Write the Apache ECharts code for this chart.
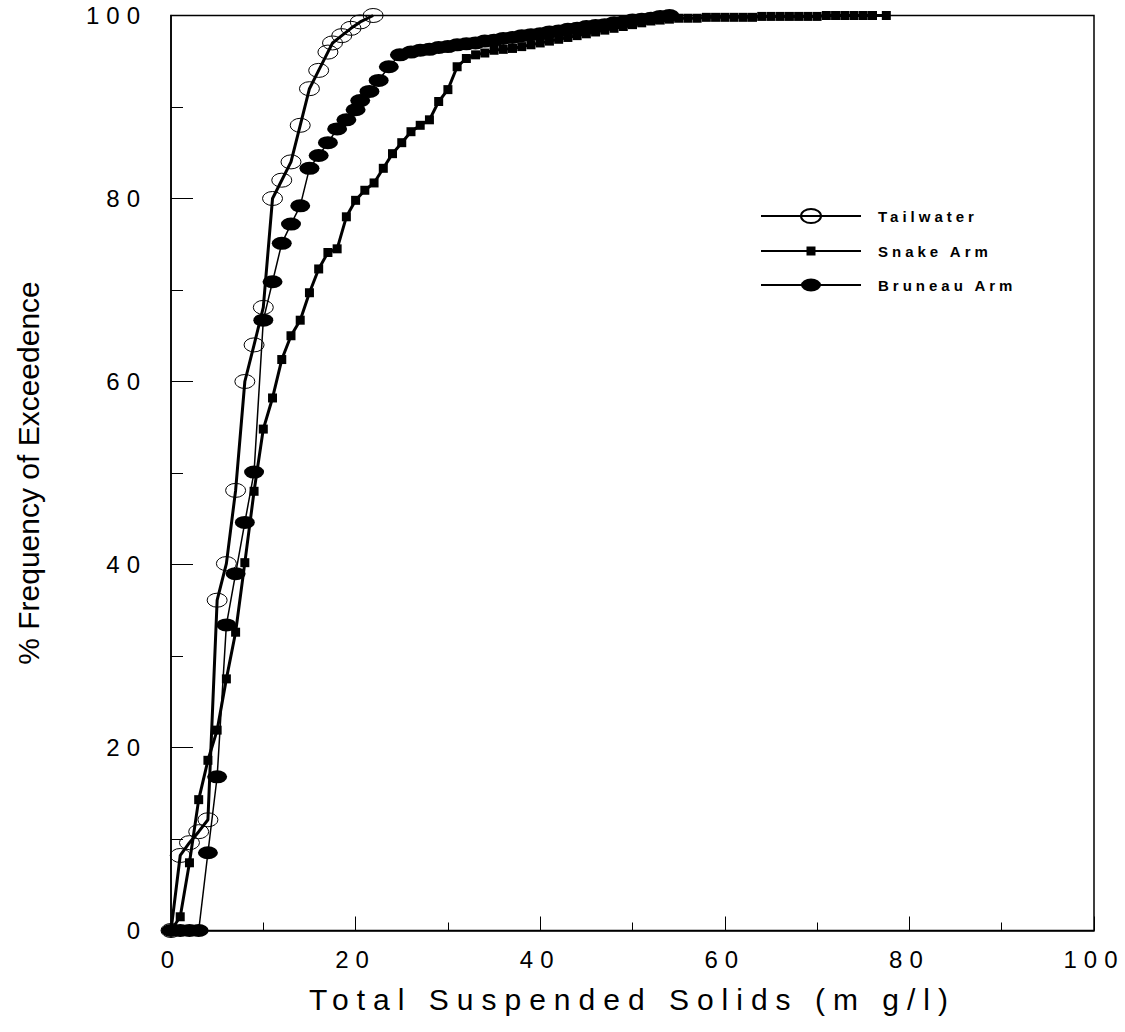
<!DOCTYPE html>
<html>
<head>
<meta charset="utf-8">
<title>Total Suspended Solids</title>
<script src="https://cdn.jsdelivr.net/npm/echarts@6/dist/echarts.min.js"></script>
<style>
html,body{margin:0;padding:0;background:#fff;}
#chart{width:1125px;height:1032px;}
/* letter spacing of the old plot fonts */
#chart text[style*="Arial"]{letter-spacing:7px;}
#chart text[style*="Helvetica"]{letter-spacing:8px;}
#chart text[style*="bold"]{letter-spacing:4px;}
</style>
</head>
<body>
<div id="chart"></div>
<script>
// Tailwater
var tailX = [0, 1, 2, 3, 4, 5, 6, 7, 8, 9, 10, 11, 12, 13, 14, 15, 16, 17, 17.5, 18.5, 19.5, 20.5, 21.9];
var tailY = [0, 8.2, 9.6, 10.8, 12.1, 36.1, 40.1, 48.1, 60, 64, 68.1, 80, 82, 84, 88, 92, 94, 96, 97, 97.8, 98.6, 99.3, 100];

// Snake Arm
var snakeX = [0, 1, 2, 3, 4, 5, 6, 7, 8, 9, 10, 11, 12, 13, 14, 15, 16, 17, 18, 19, 20,
  21, 22, 23, 24, 25, 26, 27, 28, 29, 30, 31, 32, 33, 34, 35, 36, 37,
  38, 39, 40, 41, 42, 43, 44, 45, 46, 47, 48, 49, 50, 51, 52, 53, 54,
  55, 56, 57, 58, 59, 60, 61, 62, 63, 64, 65, 66, 67, 68, 69, 70, 71, 72, 73, 74, 75, 76, 77.5];
var snakeY = [0, 1.5, 7.4, 14.3, 18.6, 21.9, 27.5, 32.6, 40.2, 48, 54.8, 58.2, 62.4, 65, 66.7, 69.7, 72.3, 74.1, 74.5, 78, 79.8,
  80.9, 81.7, 83.3, 84.9, 86.1, 87.3, 88, 88.6, 90.6, 91.9, 94.4, 95.3, 95.7, 95.9, 96.2, 96.3, 96.4,
  96.6, 96.8, 97, 97.2, 97.4, 97.6, 97.8, 98, 98.2, 98.4, 98.6, 98.8, 99, 99.2, 99.4, 99.5, 99.6,
  99.7, 99.7, 99.7, 99.8, 99.8, 99.8, 99.8, 99.8, 99.8, 99.9, 99.9, 99.9, 99.9, 99.9, 99.9, 99.9, 100, 100, 100, 100, 100, 100, 100];

// Bruneau Arm
var bruX = [0, 1, 2, 3, 4, 5, 6, 7, 8, 9, 10, 11, 12, 13, 14, 15, 16, 17, 18, 19, 20, 20.5, 21.5, 22.5, 23.6, 24.8,
  26, 27, 28, 29, 30, 31, 32, 33, 34, 35, 36, 37, 38, 39, 40, 41, 42, 43, 44, 45, 46, 47, 48, 49, 50, 51, 52, 53, 54];
var bruY = [0, 0, 0, 0, 8.5, 16.8, 33.4, 39, 44.6, 50.1, 66.7, 70.9, 75.1, 77.2, 79.2, 83.3, 84.7, 86.1, 87.6, 88.6, 89.7, 90.7, 91.7, 92.9, 94.4, 95.7,
  96, 96.2, 96.3, 96.5, 96.6, 96.8, 96.9, 97, 97.2, 97.3, 97.5, 97.6, 97.8, 97.9, 98, 98.2, 98.3, 98.5, 98.6, 98.8, 98.9, 99, 99.2, 99.3, 99.5, 99.6, 99.7, 99.9, 100];

var xTicks = [0, 20, 40, 60, 80, 100];

function pairs(xs, ys) {
  return xs.map(function (x, i) { return [x, ys[i]]; });
}

// symbols drawn in a 20x20 box so the legend keeps their shape
var ovalOpen = 'path://M10,0 M10,20 M0,10 A10,7 0 1 0 20,10 A10,7 0 1 0 0,10 Z';
var ovalFull = 'path://M10,0 M10,20 M0,10 A10,6.5 0 1 0 20,10 A10,6.5 0 1 0 0,10 Z';
var smallSquare = 'path://M0,0 M20,20 M5.5,5.5 L14.5,5.5 L14.5,14.5 L5.5,14.5 Z';

var myChart = echarts.init(document.getElementById('chart'), null, {renderer: 'svg'});

var option = {
  animation: false,
  backgroundColor: '#fff',
  grid: {
    left: 171,
    right: 31,
    top: 15.5,
    bottom: 101.5,
    show: true,
    borderColor: '#000',
    borderWidth: 1.5,
    backgroundColor: 'transparent'
  },
  legend: {
    orient: 'vertical',
    left: 755,
    top: 200,
    itemWidth: 100,
    itemHeight: 25,
    itemGap: 14,
    data: ['Tailwater', 'Snake Arm', 'Bruneau Arm'],
    textStyle: {
      color: '#000',
      fontSize: 15,
      fontWeight: 'bold',
      fontFamily: 'Liberation Sans',
      padding: [0, 0, 0, 12]
    }
  },
  xAxis: {
    type: 'value',
    min: 0,
    max: 100,
    interval: 20,
    name: 'Total Suspended Solids (m g/l)',
    nameLocation: 'middle',
    nameGap: 54,
    nameTextStyle: {
      color: '#000',
      fontSize: 30,
      fontFamily: "Helvetica, 'Liberation Sans', sans-serif"
    },
    axisLine: {lineStyle: {color: '#000', width: 1.5}},
    axisTick: {inside: true, length: 14, lineStyle: {color: '#000', width: 1}},
    minorTick: {show: true, splitNumber: 2, length: 8, lineStyle: {color: '#000', width: 1}},
    splitLine: {show: false},
    axisLabel: {
      color: '#000',
      fontSize: 24,
      margin: 17,
      fontFamily: "Arial, 'Liberation Sans', sans-serif",
      formatter: function (v) { return xTicks.indexOf(v) >= 0 ? String(v) : ''; }
    }
  },
  yAxis: {
    type: 'value',
    min: 0,
    max: 100,
    interval: 20,
    name: '% Frequency of Exceedence',
    nameLocation: 'middle',
    nameGap: 128,
    nameTextStyle: {
      color: '#000',
      fontSize: 30,
      fontFamily: "'Liberation Sans', sans-serif"
    },
    axisLine: {lineStyle: {color: '#000', width: 1.5}},
    axisTick: {inside: true, length: 22, lineStyle: {color: '#000', width: 1}},
    minorTick: {show: true, splitNumber: 2, length: 12, lineStyle: {color: '#000', width: 1}},
    splitLine: {show: false},
    axisLabel: {
      color: '#000',
      fontSize: 24,
      margin: 24,
      fontFamily: "Arial, 'Liberation Sans', sans-serif"
    }
  },
  series: [{
    name: 'Tailwater',
    type: 'line',
    data: pairs(tailX, tailY),
    symbol: ovalOpen,
    symbolSize: 20,
    showAllSymbol: true,
    lineStyle: {color: '#000', width: 3},
    itemStyle: {color: 'rgba(255,255,255,0)', borderColor: '#000', borderWidth: 1},
    z: 2
  }, {
    name: 'Snake Arm',
    type: 'line',
    data: pairs(snakeX, snakeY),
    symbol: smallSquare,
    symbolSize: 20,
    showAllSymbol: true,
    lineStyle: {color: '#000', width: 3},
    itemStyle: {color: '#000'},
    z: 3
  }, {
    name: 'Bruneau Arm',
    type: 'line',
    data: pairs(bruX, bruY),
    symbol: ovalFull,
    symbolSize: 20,
    showAllSymbol: true,
    lineStyle: {color: '#000', width: 1.5},
    itemStyle: {color: '#000'},
    z: 4
  }]
};

myChart.setOption(option, true);
</script>
</body>
</html>
